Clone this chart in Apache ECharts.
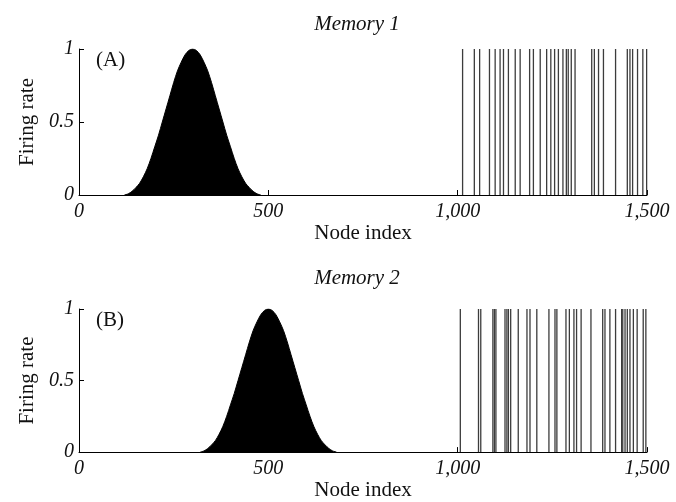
<!DOCTYPE html>
<html>
<head>
<meta charset="utf-8">
<script src="https://cdn.jsdelivr.net/npm/echarts@6/dist/echarts.min.js"></script>
<style>
    html,body{margin:0;padding:0;background:#fff;}
    #chart{width:676px;height:502px;}
</style>
</head>
<body>
<div id="chart"></div>
<script>
    // firing-rate bump (node index, rate)
    var nodesA = [120,130,140,150,160,170,180,190,200,210,220,230,240,250,260,270,280,290,300,310,320,330,340,350,360,370,380,390,400,410,420,430,440,450,460,470,480];
    var nodesB = [320,330,340,350,360,370,380,390,400,410,420,430,440,450,460,470,480,490,500,510,520,530,540,550,560,570,580,590,600,610,620,630,640,650,660,670,680];
    var bumpRate = [0,0.008,0.025,0.05,0.08,0.125,0.18,0.25,0.33,0.41,0.50,0.59,0.68,0.77,0.85,0.91,0.96,0.99,1.00,0.99,0.96,0.91,0.85,0.77,0.68,0.59,0.50,0.41,0.33,0.25,0.18,0.125,0.08,0.05,0.025,0.008,0];
    // spikes in the 1000-1500 range
    var spikesA = [1013,1044,1058,1084,1099,1112,1121,1134,1152,1165,1190,1200,1218,1235,1246,1256,1266,1278,1287,1292,1300,1310,1354,1361,1372,1385,1417,1448,1455,1462,1475,1489,1499];
    var spikesB = [1007,1055,1061,1093,1097,1101,1125,1130,1134,1140,1160,1183,1191,1209,1241,1257,1262,1286,1295,1307,1314,1326,1352,1383,1389,1402,1417,1433,1436,1442,1448,1455,1464,1474,1490,1497];
    var titles = ['Memory 1','Memory 2'];
    var panelTags = ['(A)','(B)'];

    var serif = '"Liberation Serif","DejaVu Serif",serif';
    var chart = echarts.init(document.getElementById('chart'));

    function pairs(xs, ys){
        return xs.map(function(x,i){ return [x, ys[i]]; });
    }
    function xAxisCfg(idx){
        return {
            gridIndex: idx, type:'value', min:0, max:1500, interval:500,
            name:'Node index', nameLocation:'middle', nameGap:24,
            nameTextStyle:{fontFamily:serif, fontSize:21, color:'#111'},
            axisLine:{show:true, lineStyle:{color:'#000', width:1}},
            axisTick:{show:true, inside:true, length:5, lineStyle:{color:'#000'}},
            splitLine:{show:false},
            axisLabel:{
                fontFamily:serif, fontStyle:'italic', fontSize:20, color:'#111', margin:7,
                formatter:function(v){ return v >= 1000 ? Math.floor(v/1000)+','+String(v%1000).padStart(3,'0') : String(v); }
            }
        };
    }
    function yAxisCfg(idx){
        return {
            gridIndex: idx, type:'value', min:0, max:1, interval:0.5,
            name:'Firing rate', nameLocation:'middle', nameGap:41, nameRotate:90,
            nameTextStyle:{fontFamily:serif, fontSize:21, color:'#111'},
            axisLine:{show:true, lineStyle:{color:'#000', width:1}},
            axisTick:{show:true, inside:true, length:5, lineStyle:{color:'#000'}},
            splitLine:{show:false},
            axisLabel:{fontFamily:serif, fontStyle:'italic', fontSize:20, color:'#111', margin:5}
        };
    }
    function spikeSeries(idx, list){
        return {
            type:'bar', xAxisIndex:idx, yAxisIndex:idx, barWidth:1.3,
            data:list.map(function(n){ return [n,1]; }),
            itemStyle:{color:'#3c3c3c'}, silent:true
        };
    }
    function bumpSeries(idx, xs){
        return {
            type:'line', xAxisIndex:idx, yAxisIndex:idx, smooth:0.3, symbol:'none',
            data:pairs(xs, bumpRate),
            lineStyle:{color:'#000', width:1},
            areaStyle:{color:'#000', opacity:1}, silent:true
        };
    }

    var option = {
        animation:false,
        backgroundColor:'#fff',
        title:[
            {text:titles[0], left:357, top:14, textAlign:'center', padding:0,
             textStyle:{fontFamily:serif, fontStyle:'italic', fontWeight:'normal', fontSize:21, color:'#111'}},
            {text:titles[1], left:357, top:268, textAlign:'center', padding:0,
             textStyle:{fontFamily:serif, fontStyle:'italic', fontWeight:'normal', fontSize:21, color:'#111'}}
        ],
        grid:[
            {left:79, width:568, top:49, height:146},
            {left:79, width:568, top:309, height:145}
        ],
        xAxis:[xAxisCfg(0), xAxisCfg(1)],
        yAxis:[yAxisCfg(0), yAxisCfg(1)],
        graphic:[
            {type:'text', left:96, top:50, style:{text:panelTags[0], font:'21px '+serif, fill:'#111'}},
            {type:'text', left:96, top:310, style:{text:panelTags[1], font:'21px '+serif, fill:'#111'}}
        ],
        series:[
            bumpSeries(0, nodesA),
            spikeSeries(0, spikesA),
            bumpSeries(1, nodesB),
            spikeSeries(1, spikesB)
        ]
    };
    chart.setOption(option);
</script>
</body>
</html>
